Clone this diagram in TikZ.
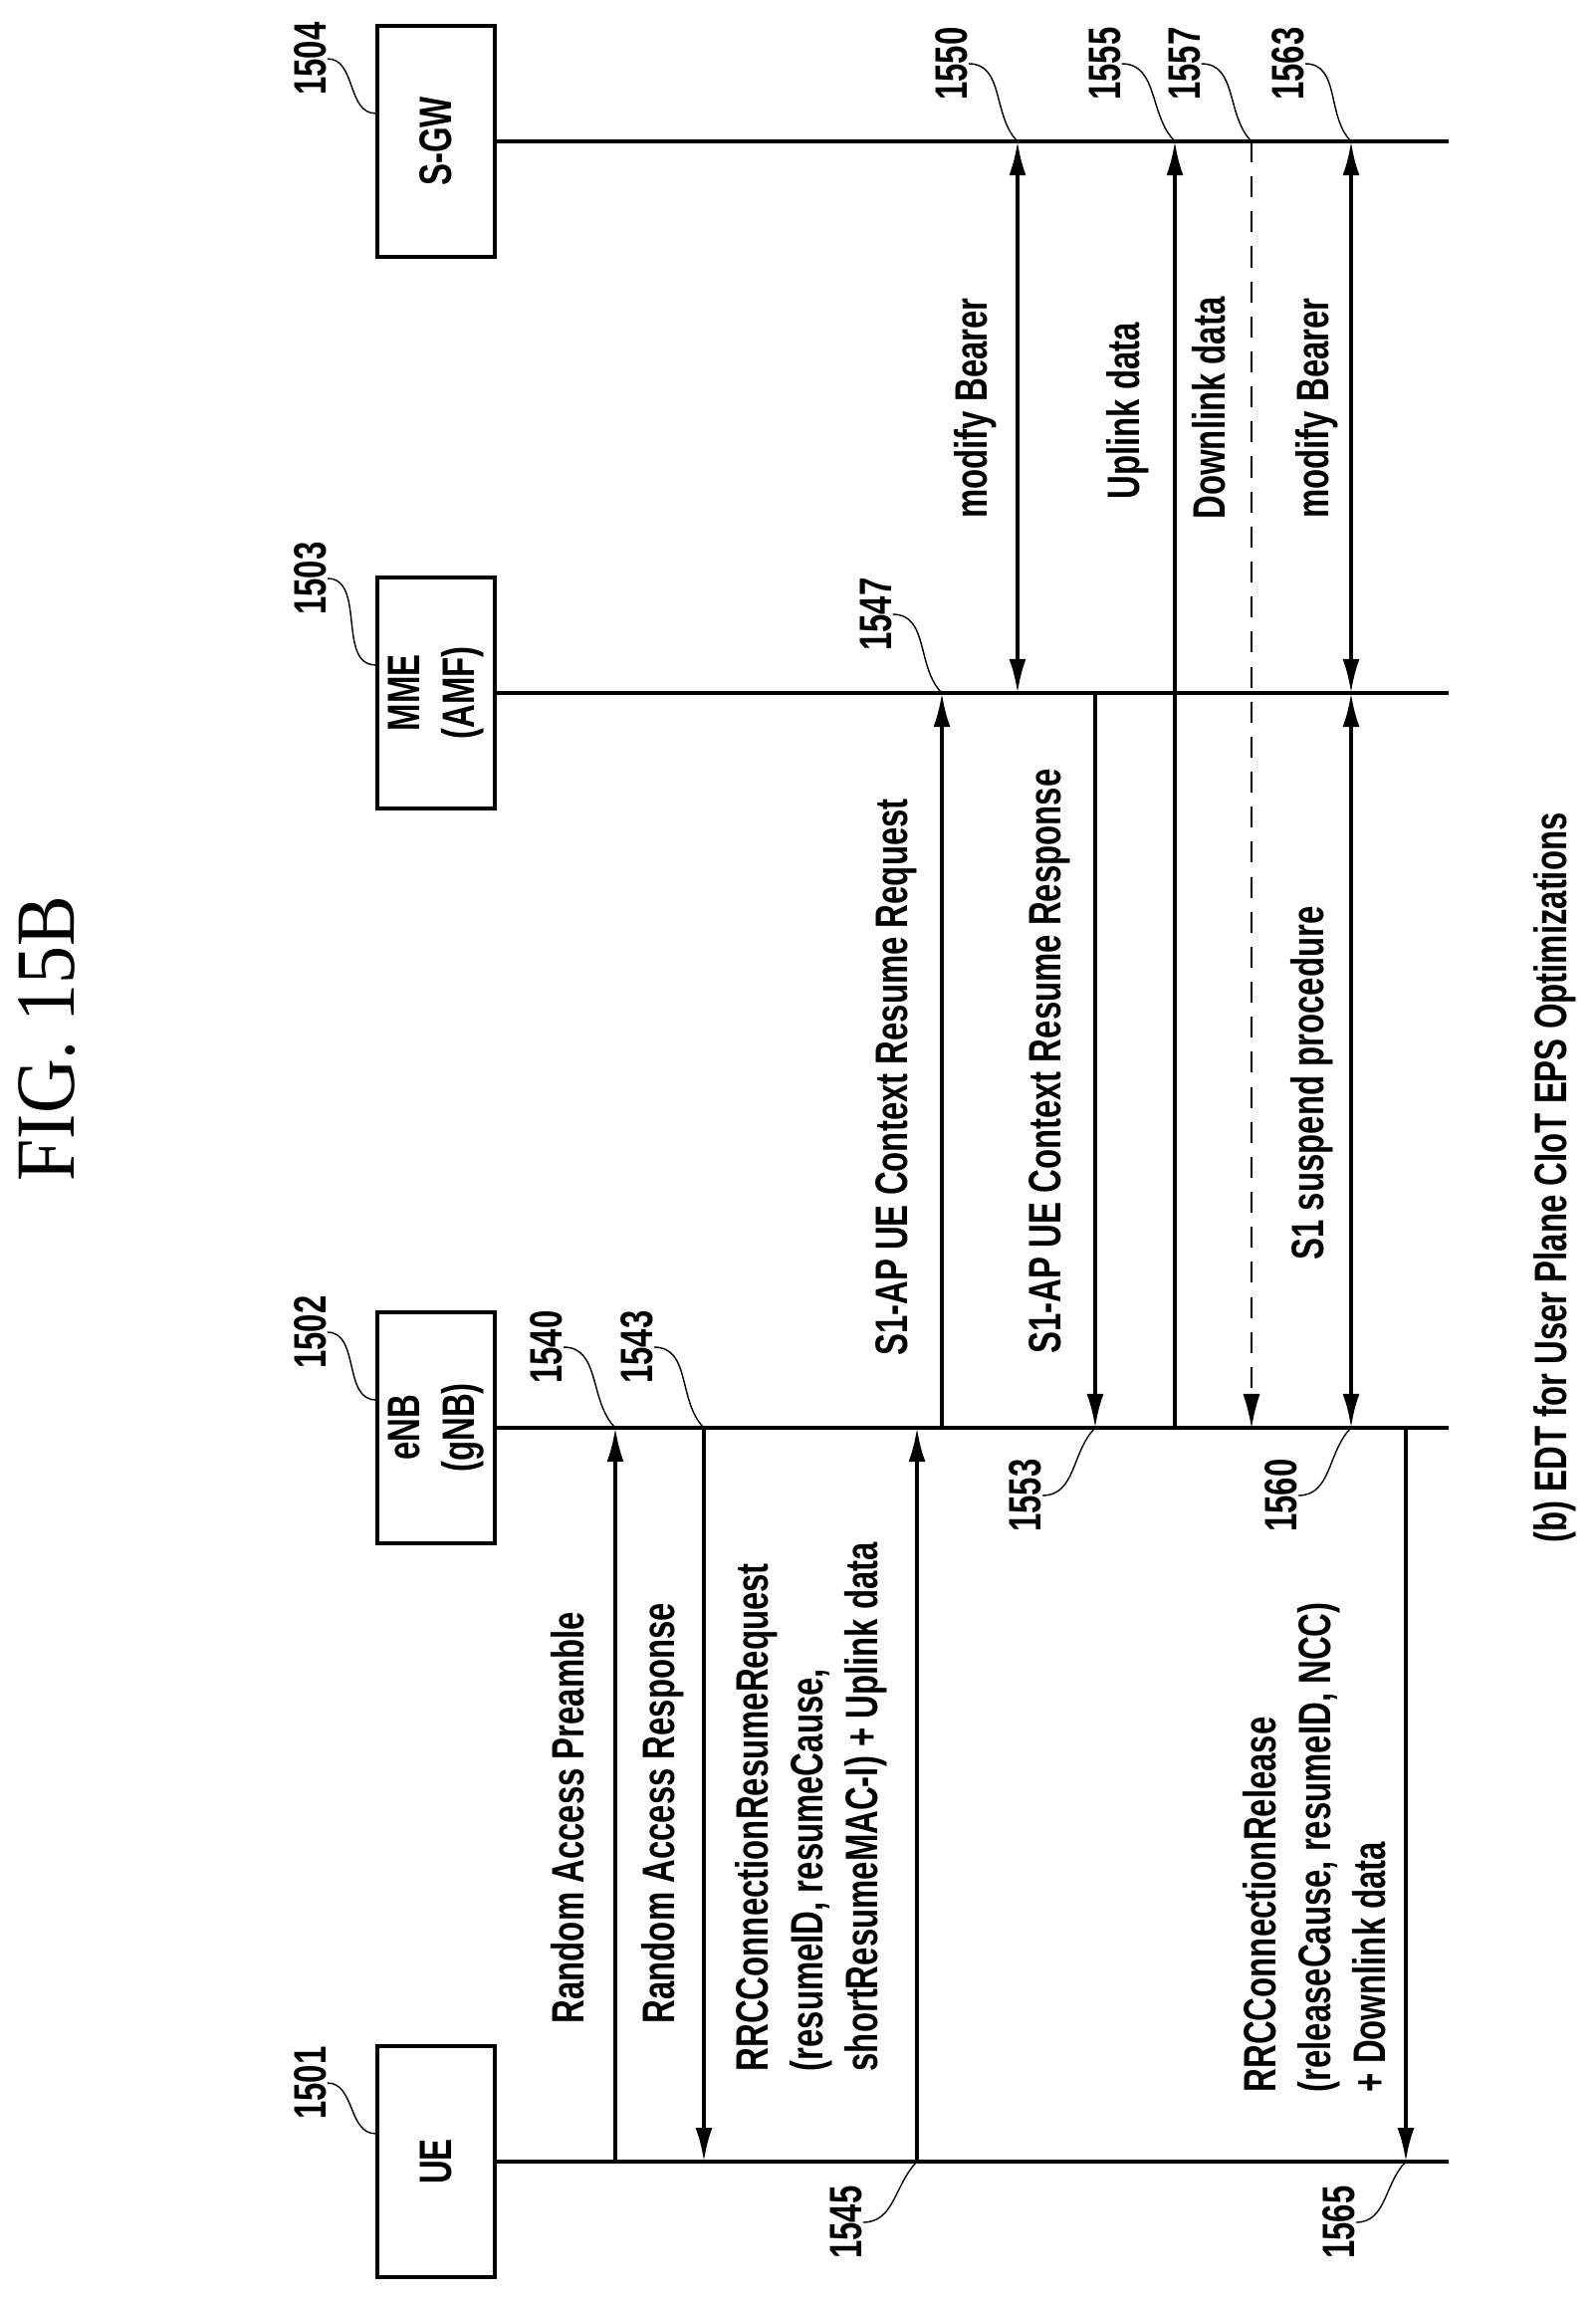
\documentclass[tikz,border=0pt]{standalone}
\usepackage{fontspec}
\setsansfont{Liberation Sans}[FakeStretch=0.72]
\newfontfamily\figfont{Liberation Serif}[FakeStretch=0.9]
\usetikzlibrary{arrows.meta}
\tikzset{>={Latex[length=3.4mm,width=1.7mm]}}
\tikzset{
  msg/.style={line width=1.1pt},
  life/.style={line width=1.4pt},
  lbl/.style={rotate=90, inner sep=0pt, font=\sffamily\bfseries\fontsize{13}{15.6}\selectfont},
  box/.style={draw, line width=1pt, rotate=90, minimum width=2.32cm, minimum height=1.18cm, align=center, inner sep=0pt, font=\sffamily\bfseries\fontsize{13}{15.6}\selectfont},
  lead/.style={line width=0.4pt},
}

\begin{document}
\begin{tikzpicture}[x=0.01cm, y=-0.01cm]
    \useasboundingbox (0,0) rectangle (1602,2312);
    \node[rotate=90, font=\figfont\fontsize{24}{24}\selectfont] (fig) at (47,1043) {FIG. 15B};
    % entities
    \node[box] (sgw) at (438,142) {S-GW};
    \node[box] (mme) at (438,696) {MME\\(AMF)};
    \node[box] (enb) at (438,1434) {eNB\\(gNB)};
    \node[box] (ue) at (438,2171) {UE};
    \foreach \n/\y in {sgw/142, mme/696, enb/1434, ue/2171} {
        \coordinate (\n-end) at (1455,\y);
        \draw[life] (\n.south) -- (\n-end);
    }
    \foreach \n/\y/\t in {sgw/59/1504, mme/581/1503, enb/1338/1502, ue/2092/1501} {
        \node[lbl] (r\t) at (312,\y) {\t};
        \draw[lead] (r\t.south) to[out=0, in=180] ([yshift=8pt]\n.north);
    }
    % points on the lifelines
    \foreach \m/\x in {rap/618, rar/707, req/921, sreq/946, mb/1022, sresp/1100, ul/1180, dl/1257, sus/1357, rel/1412} {
        \coordinate (\m-sgw) at (\x,142);
        \coordinate (\m-mme) at (\x,696);
        \coordinate (\m-enb) at (\x,1434);
        \coordinate (\m-ue) at (\x,2171);
    }
    % messages
    \draw[msg, ->] (rap-ue) -- (rap-enb);
    \draw[msg, ->] (rar-enb) -- (rar-ue);
    \draw[msg, ->] (req-ue) -- (req-enb);
    \draw[msg, ->] (sreq-enb) -- (sreq-mme);
    \draw[msg, <->] (mb-mme) -- (mb-sgw);
    \draw[msg, ->] (sresp-mme) -- (sresp-enb);
    \draw[msg, ->] (ul-enb) -- (ul-sgw);
    \draw[lead, dashed, dash pattern=on 6pt off 4pt, ->] (dl-sgw) -- (dl-enb);
    \draw[msg, <->] (sus-enb) -- (sus-mme);
    \draw[msg, <->] (sus-mme) -- (sus-sgw);
    \draw[msg, ->] (rel-enb) -- (rel-ue);
    % message texts
    \node[lbl, anchor=west] (trap) at (570,2033) {Random Access Preamble};
    \node[lbl, anchor=west] (trar) at (666,2033) {Random Access Response};
    \node[lbl, anchor=west, align=left] (treq) at (815,2081) {RRCConnectionResumeRequest\\(resumeID, resumeCause,\\shortResumeMAC-I) + Uplink data};
    \node[lbl] (tsreq) at (900,1082) {S1-AP UE Context Resume Request};
    \node[lbl] (tmb) at (980,410) {modify Bearer};
    \node[lbl] (tsresp) at (1054,1066) {S1-AP UE Context Resume Response};
    \node[lbl] (tul) at (1133,413) {Uplink data};
    \node[lbl] (tdl) at (1214,410) {Downlink data};
    \node[lbl] (tsus) at (1318,1088) {S1 suspend procedure};
    \node[lbl] (tmb2) at (1323,410) {modify Bearer};
    \node[lbl, anchor=west, align=left] (trel) at (1320,2102) {RRCConnectionRelease\\(releaseCause, resumeID, NCC)\\+ Downlink data};
    \node[lbl] (cap) at (1562,1183) {(b) EDT for User Plane CIoT EPS Optimizations};
    % reference numerals above the lines
    \foreach \t/\x/\y/\p in {1540/549/1353/rap-enb, 1543/640/1353/rar-enb, 1547/880/617/sreq-mme, 1550/956/64/mb-sgw, 1555/1110/64/ul-sgw, 1557/1190/64/dl-sgw, 1563/1294/64/sus-sgw} {
        \node[lbl] (r\t) at (\x,\y) {\t};
        \draw[lead] (r\t.south) to[out=0, in=135] (\p);
    }
    % reference numerals below the lines
    \foreach \t/\x/\y/\p in {1545/850/2232/req-ue, 1553/1030/1502/sresp-enb, 1560/1287/1502/sus-enb, 1565/1345/2232/rel-ue} {
        \node[lbl] (r\t) at (\x,\y) {\t};
        \draw[lead] (r\t.south) to[out=0, in=-135] (\p);
    }
\end{tikzpicture}
\end{document}
